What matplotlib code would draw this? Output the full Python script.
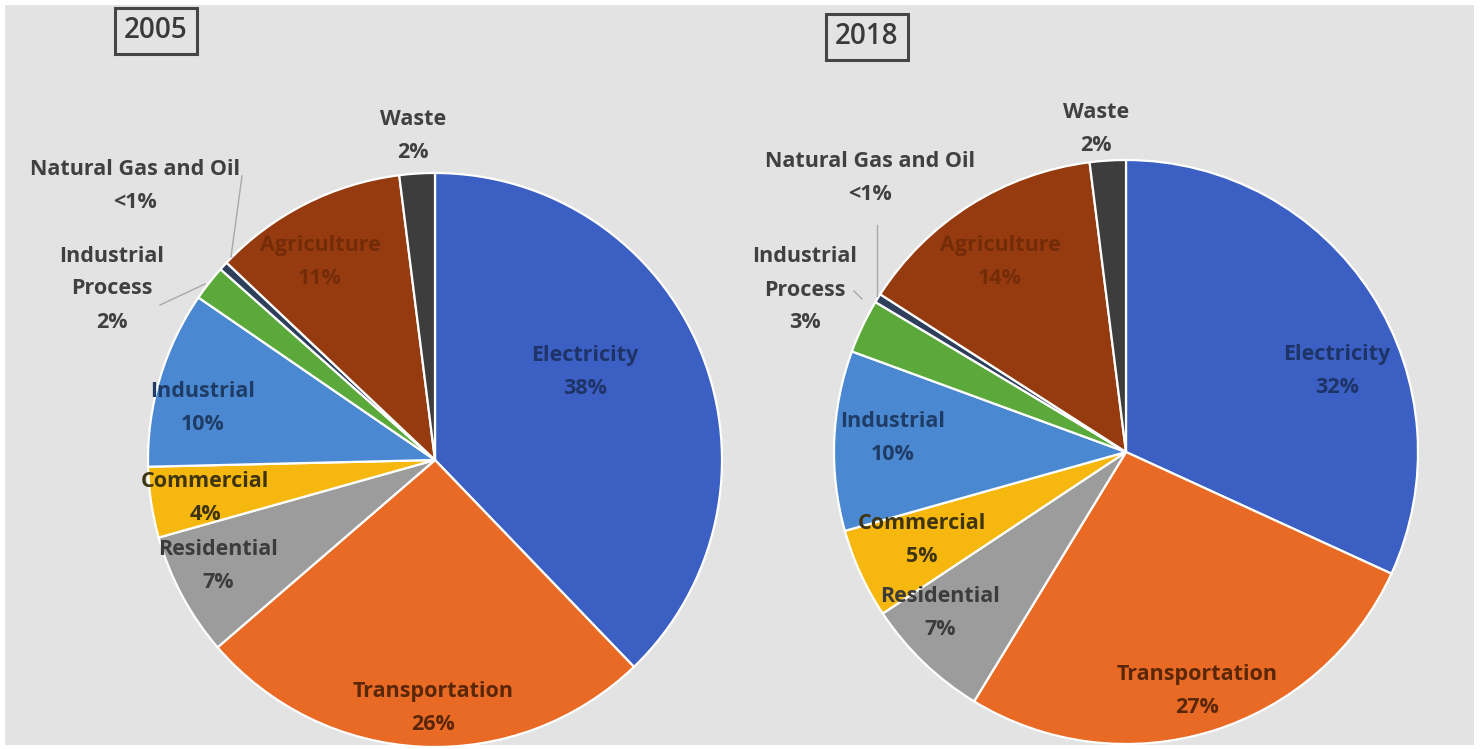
import matplotlib.pyplot as plt
from matplotlib.patches import Rectangle

plt.rcParams['font.family'] = ['Open Sans', 'DejaVu Sans']

W, H = 1480, 749

sectors = ['Electricity', 'Transportation', 'Residential', 'Commercial', 'Industrial',
           'Industrial\nProcess', 'Natural Gas and Oil', 'Agriculture', 'Waste']
share_2005 = [38, 26, 7, 4, 10, 2, 0.5, 11, 2]
share_2018 = [32, 27, 7, 5, 10, 3, 0.5, 14, 2]
pct_2005 = ['38%', '26%', '7%', '4%', '10%', '2%', '<1%', '11%', '2%']
pct_2018 = ['32%', '27%', '7%', '5%', '10%', '3%', '<1%', '14%', '2%']

fill_colors = ['#3b5fc2', '#e96a25', '#9c9c9c', '#f6b70f', '#4a89d2',
               '#5aa93a', '#2e3f5c', '#963b0f', '#3d3d3d']
text_colors = ['#1e3468', '#5a2608', '#3c3c3c', '#3e3410', '#1f3c66',
               '#404040', '#404040', '#742c08', '#404040']

# label block centres in pixel coordinates (x from left, y from top)
label_pos_2005 = [(585, 372), (433, 708), (218, 566), (205, 498), (203, 408),
                  (112, 289), (135, 186), (320, 262), (413, 136)]
label_pos_2018 = [(1337, 371), (1197, 691), (940, 613), (922, 540), (893, 438),
                  (805, 290), (870, 178), (1000, 262), (1096, 129)]

leaders_2005 = [((242, 176), (231, 257)), ((160, 305), (205, 284))]
leaders_2018 = [((877, 225), (877, 296)), ((854, 291), (862, 299))]


def px(x, y):
    return x, H - y


fig = plt.figure(figsize=(W / 100, H / 100), dpi=100)
fig.patch.set_facecolor('white')
ax = fig.add_axes([0, 0, 1, 1])

ax.add_patch(Rectangle((5, 4), W - 11, H - 9, facecolor='#e3e3e3', edgecolor='none', zorder=0))


def draw_pie(shares, pcts, centre, radius, positions, leaders, year, title_xy):
    ax.pie(shares, colors=fill_colors, startangle=90, counterclock=False,
           center=px(*centre), radius=radius, frame=True,
           wedgeprops=dict(edgecolor='white', linewidth=1.6))
    for name, pct, pos, col in zip(sectors, pcts, positions, text_colors):
        ax.text(*px(*pos), f'{name}\n{pct}', ha='center', va='center',
                fontsize=15.5, fontweight='bold', color=col, linespacing=1.75, zorder=5)
    for (x0, y0), (x1, y1) in leaders:
        a, b = px(x0, y0)
        c, d = px(x1, y1)
        ax.plot([a, c], [b, d], color='#a8a8a8', lw=1, zorder=4)
    ax.text(*px(*title_xy), year, ha='center', va='center', fontsize=20, color='#3a3a3a',
            fontweight='semibold',
            bbox=dict(boxstyle='square,pad=0.32', facecolor='none', edgecolor='#454545', lw=2.2))


draw_pie(share_2005, pct_2005, (435, 460), 287, label_pos_2005, leaders_2005, '2005', (156, 31))
draw_pie(share_2018, pct_2018, (1126, 452), 292, label_pos_2018, leaders_2018, '2018', (867, 37))

ax.set_xlim(0, W)
ax.set_ylim(0, H)
ax.set_aspect('equal')
ax.axis('off')

fig.savefig('out.png', dpi=100)
